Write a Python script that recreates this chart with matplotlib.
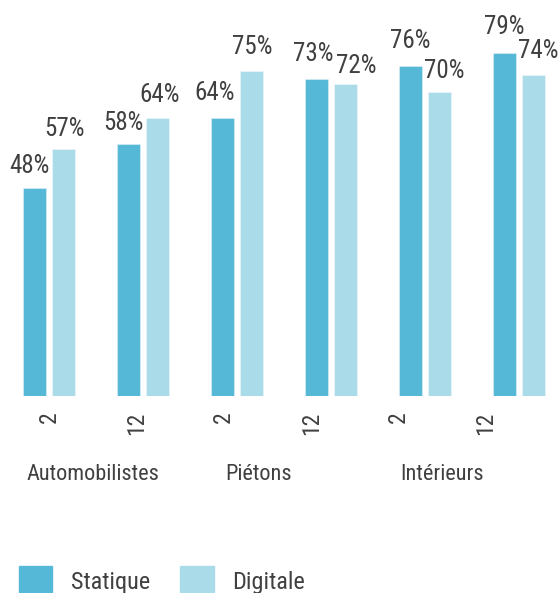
import matplotlib
matplotlib.use("Agg")
import matplotlib.pyplot as plt
import matplotlib.patches as mpatches
from matplotlib.legend_handler import HandlerPatch
import numpy as np

plt.rcParams['font.family'] = ['Roboto Condensed', 'Roboto', 'DejaVu Sans']

# Data
categories = ["Automobilistes", "Piétons", "Intérieurs"]
tick_labels = ["2", "12", "2", "12", "2", "12"]
statique = [48, 58, 64, 73, 76, 79]
digitale = [57, 64, 75, 72, 70, 74]

# label nudges in pixels (dx, baseline gap above bar top)
stat_nudge = [(-5, 15), (-5, 14), (-8, 18), (-3, 18), (0, 18), (0, 19)]
digi_nudge = [(1, 13), (2, 16), (0, 17), (10, 11), (4, 14), (4, 17)]

C_STAT = "#55b8d6"
C_DIGI = "#aadbe9"
TXT = "#404040"

fig = plt.figure(figsize=(5.6, 5.93), dpi=100)
ax = fig.add_axes([0, 197 / 593, 1, 396 / 593])

x = np.arange(len(statique))
w = 0.245
off = 0.157
ax.bar(x - off, statique, w, color=C_STAT, edgecolor=(1, 1, 1, 0.35), linewidth=0.8)
ax.bar(x + off, digitale, w, color=C_DIGI, edgecolor=(1, 1, 1, 0.35), linewidth=0.8)

for i in range(len(x)):
    ax.annotate(f"{statique[i]}%", (x[i] - off, statique[i]), xytext=stat_nudge[i],
                textcoords="offset pixels", ha="center", va="baseline", fontsize=18, color=TXT)
    ax.annotate(f"{digitale[i]}%", (x[i] + off, digitale[i]), xytext=digi_nudge[i],
                textcoords="offset pixels", ha="center", va="baseline", fontsize=18, color=TXT)

ax.set_xlim(-49 / 94, (560 - 49) / 94)
ax.set_ylim(0, 396 / 4.34)
ax.axis("off")

# tick labels sit on their own (slightly narrower) scale
ax2 = ax.twiny()
ax2.xaxis.set_ticks_position("bottom")
ax2.set_xlim(-49 / 87.4, (560 - 49) / 87.4)
ax2.set_xticks(np.arange(len(tick_labels)))
ax2.set_xticklabels(tick_labels, rotation=90, fontsize=17, color=TXT)
ax2.tick_params(axis="x", length=0, pad=11)
ax2.set_yticks([])
for s in ax2.spines.values():
    s.set_visible(False)

for k, cat in enumerate(categories):
    ax2.text(2 * k + 0.5 - (0.1 if k == 1 else 0), -0.212, cat, transform=ax2.get_xaxis_transform(),
             ha="center", va="baseline", fontsize=16, color=TXT)

handles = [mpatches.Patch(color=C_STAT, label="Statique"),
           mpatches.Patch(color=C_DIGI, label="Digitale")]
fig.legend(handles=handles, loc="lower left", bbox_to_anchor=(19 / 560, -3 / 593),
           ncol=2, frameon=False, fontsize=17.5, handlelength=1.375, handleheight=1.546,
           handletextpad=0.75, columnspacing=1.25, borderpad=0, borderaxespad=0,
           labelcolor=TXT, handler_map={mpatches.Patch: HandlerPatch(ypad=0.171)})

fig.savefig("out.png", dpi=100)
